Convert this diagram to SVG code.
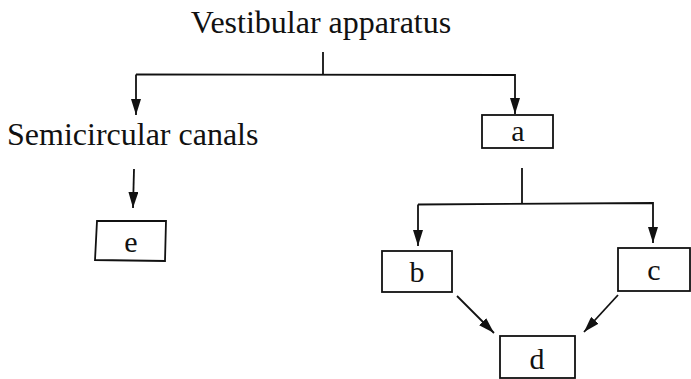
<svg xmlns="http://www.w3.org/2000/svg" width="691" height="379" viewBox="0 0 691 379">
  <style>
    .lbl { font-family: "Liberation Serif", "Times New Roman", serif; font-size: 32px; fill: #111; }
    .key { font-size: 30px; }
    .mid { text-anchor: middle; }
    .box { fill: #fff; stroke: #111; stroke-width: 1.8; }
    .wire { fill: none; stroke: #111; stroke-width: 1.8; }
  </style>
  <defs>
    <marker id="arrow" viewBox="0 0 16 10" refX="16" refY="5" markerWidth="16" markerHeight="10" markerUnits="userSpaceOnUse" orient="auto">
      <path d="M0,0 L16,5 L0,10 Z" fill="#111"/>
    </marker>
  </defs>
  <rect width="691" height="379" fill="#fff"/>

  <g id="connectors">
    <line class="wire" x1="323" y1="52" x2="323" y2="74"/>
    <polyline class="wire" points="136,74.5 515,75 515,114" marker-end="url(#arrow)"/>
    <line class="wire" x1="136" y1="74.5" x2="136" y2="115" marker-end="url(#arrow)"/>
    <line class="wire" x1="134" y1="169" x2="133" y2="208" marker-end="url(#arrow)"/>
    <line class="wire" x1="522" y1="168" x2="522" y2="204"/>
    <polyline class="wire" points="418,204.5 653,203 653,243" marker-end="url(#arrow)"/>
    <line class="wire" x1="418" y1="204.5" x2="418" y2="246" marker-end="url(#arrow)"/>
    <line class="wire" x1="457" y1="296" x2="494" y2="333" marker-end="url(#arrow)"/>
    <line class="wire" x1="618" y1="295" x2="584" y2="332" marker-end="url(#arrow)"/>
  </g>

  <g id="vestibular-apparatus">
    <text class="lbl mid" x="321" y="33">Vestibular apparatus</text>
  </g>
  <g id="semicircular-canals">
    <text class="lbl" x="7" y="145">Semicircular canals</text>
  </g>
  <g id="node-a">
    <rect class="box" x="482" y="115" width="71" height="33"/>
    <text class="lbl key mid" x="518" y="141">a</text>
  </g>
  <g id="node-e">
    <polygon class="box" points="97,221 166,221 165,261 95,260"/>
    <text class="lbl key mid" x="131" y="252">e</text>
  </g>
  <g id="node-b">
    <rect class="box" x="382" y="251" width="70" height="41"/>
    <text class="lbl key mid" x="417" y="282">b</text>
  </g>
  <g id="node-c">
    <rect class="box" x="618" y="248" width="72" height="43"/>
    <text class="lbl key mid" x="654" y="280">c</text>
  </g>
  <g id="node-d">
    <rect class="box" x="500" y="336" width="75" height="42"/>
    <text class="lbl key mid" x="537" y="369">d</text>
  </g>
</svg>
